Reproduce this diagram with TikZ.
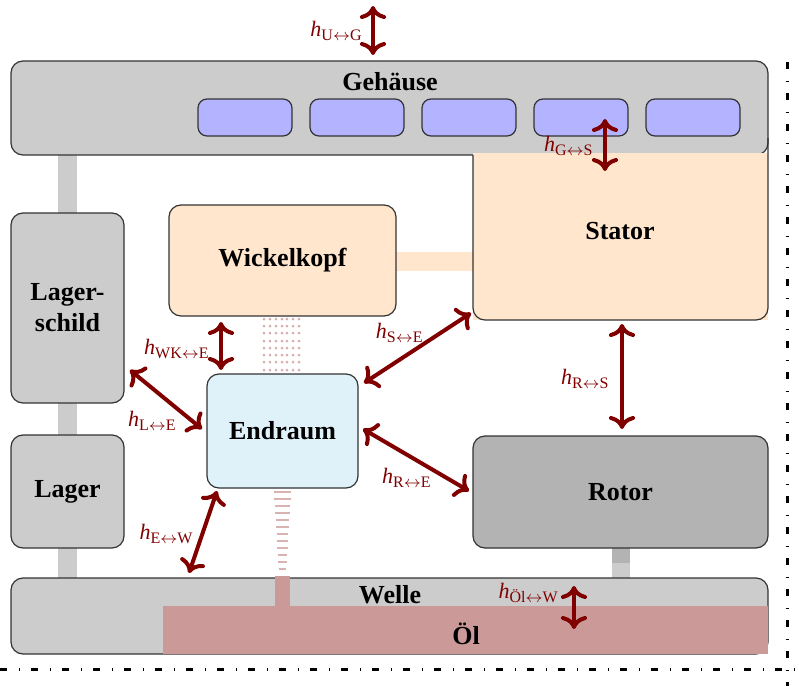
\documentclass[tikz,border=0pt]{standalone}
\usepackage{fontspec}
\setmainfont{Liberation Serif}
\usetikzlibrary{arrows.meta}

\definecolor{gehgray}{HTML}{CCCCCC}
\definecolor{rotgray}{HTML}{B3B3B3}
\definecolor{slotblue}{HTML}{B3B3FF}
\definecolor{peach}{HTML}{FFE6CC}
\definecolor{endcyan}{HTML}{DFF2FA}
\definecolor{oelrose}{HTML}{CC9999}
\definecolor{heatred}{HTML}{800000}
\definecolor{edge}{HTML}{333333}

% heat transfer coefficient label: h with subscript "A <-> B"
\newcommand\hlab[2]{\textit{h}\raisebox{-0.45ex}{\fontsize{8}{9}\selectfont #1$\leftrightarrow$#2}}

\tikzset{
  box/.style={draw=edge, line width=0.6pt, rounded corners=6pt, inner sep=0pt},
  boxtext/.style={font=\fontsize{13}{15.5}\selectfont\bfseries, align=center, inner sep=0pt},
  slot/.style={box, fill=slotblue, minimum width=47pt, minimum height=18.5pt, rounded corners=4.5pt},
  heat/.style={draw=heatred, line width=2pt, line cap=round,
    arrows={Computer Modern Rightarrow[length=6.5pt,width=13pt,line width=2pt]-Computer Modern Rightarrow[length=6.5pt,width=13pt,line width=2pt]}},
  hlabel/.style={text=heatred, font=\fontsize{11}{13}\selectfont, inner sep=0pt},
  border/.style={draw=black, line width=1.5pt, dash pattern=on 3.5pt off 6pt on 0.5pt off 5.5pt},
}

\begin{document}
\begin{tikzpicture}[x=0.5pt, y=-0.5pt]
\useasboundingbox (0,0) rectangle (799,686);

% --- mechanical links (drawn underneath the parts) ---
\fill[gehgray] (58,150) rectangle (77,218);
\fill[gehgray] (58,398) rectangle (77,440);
\fill[gehgray] (58,543) rectangle (77,583);
\fill[peach]   (390,252) rectangle (478,271);
\fill[rotgray] (612,543) rectangle (630,563);
\fill[gehgray] (612,563) rectangle (630,580);

% --- housing with cooling channels ---
\node[box, fill=gehgray, minimum width=378.5pt, minimum height=47pt] (gehaeuse) at (389.5,108) {};
\node[boxtext] (gehtext) at (390,82) {Gehäuse};
\foreach \cx [count=\i] in {245,357,469,581,693}
  \node[slot] (slot\i) at (\cx,117.5) {};

% --- stator, attached to the housing ---
\fill[peach] (473,153) rectangle (768,320);
\draw[draw=edge, line width=0.6pt, rounded corners=6pt] (473,155) -- (473,320) -- (768,320) -- (768,138);
\coordinate (stator) at (620.5,237.5);
\node[boxtext] (statortext) at (620,231) {Stator};

% --- remaining parts ---
\node[box, fill=gehgray, minimum width=56.5pt, minimum height=95pt, boxtext] (lagerschild) at (67.5,308) {Lager-\\schild};
\node[box, fill=gehgray, minimum width=56.5pt, minimum height=56.5pt, boxtext] (lager) at (67.5,491.5) {Lager};
\node[box, fill=peach, minimum width=113.5pt, minimum height=55.5pt, boxtext] (wickelkopf) at (282.5,260.5) {Wickelkopf};
\node[box, fill=endcyan, minimum width=75.5pt, minimum height=57pt, boxtext] (endraum) at (282.5,431) {Endraum};
\node[box, fill=rotgray, minimum width=147.5pt, minimum height=56pt, boxtext] (rotor) at (620.5,492) {Rotor};

% --- shaft and oil sump ---
\node[box, fill=gehgray, minimum width=378.5pt, minimum height=38pt] (welle) at (389.5,616) {};
\node[boxtext] (welletext) at (390,595) {Welle};
\fill[oelrose] (163,606) rectangle (768.4,654.4);
\node[boxtext] (oel) at (466,634) {Öl};
\fill[oelrose] (275,576) rectangle (290,606);

% --- air / oil exchange hints ---
\foreach \x in {264,270,276,282,287,293,299}
  \foreach \y in {319,326,333,341,348,355,362,370}
    \fill[oelrose!80] (\x,\y) circle (0.75pt);
\foreach \k in {0,...,11} {
  \pgfmathsetmacro\w{8.5-0.42*\k}
  \draw[oelrose!75, line width=1pt] ({282.5-\w},{492+7*\k}) -- ({282.5+\w},{492+7*\k});
}

% --- heat transfer paths ---
\coordinate (ugA) at (373,6);   \coordinate (ugB) at (373,55);
\coordinate (gsA) at (605,119); \coordinate (gsB) at (605,171);
\coordinate (wkA) at (221,322); \coordinate (wkB) at (221,370);
\coordinate (leA) at (130,370); \coordinate (leB) at (202,429);
\coordinate (seA) at (471,313); \coordinate (seB) at (364,383);
\coordinate (rsA) at (622,324); \coordinate (rsB) at (622,429);
\coordinate (reA) at (363,429); \coordinate (reB) at (469,491);
\coordinate (ewA) at (217,491); \coordinate (ewB) at (189,573);
\coordinate (owA) at (574,586); \coordinate (owB) at (574,629);

\foreach \a in {ug,gs,wk,le,se,rs,re,ew,ow}
  \draw[heat] (\a A) -- (\a B);

\node[hlabel, anchor=east] (lUG) at (362,31) {\hlab{U}{G}};
\node[hlabel, anchor=east] (lGS) at (593,146) {\hlab{G}{S}};
\node[hlabel, anchor=east] (lWK) at (209,349) {\hlab{WK}{E}};
\node[hlabel, anchor=east] (lLE) at (176,421) {\hlab{L}{E}};
\node[hlabel, anchor=east] (lSE) at (423,333) {\hlab{S}{E}};
\node[hlabel, anchor=east] (lRS) at (609,379) {\hlab{R}{S}};
\node[hlabel, anchor=east] (lRE) at (431,478) {\hlab{R}{E}};
\node[hlabel, anchor=east] (lEW) at (193,534) {\hlab{E}{W}};
\node[hlabel, anchor=east] (lOW) at (558,593) {\hlab{Öl}{W}};

% --- system boundary ---
\draw[border] (787,62) -- (787,686);
\draw[border] (0,669) -- (799,669);
\end{tikzpicture}
\end{document}
